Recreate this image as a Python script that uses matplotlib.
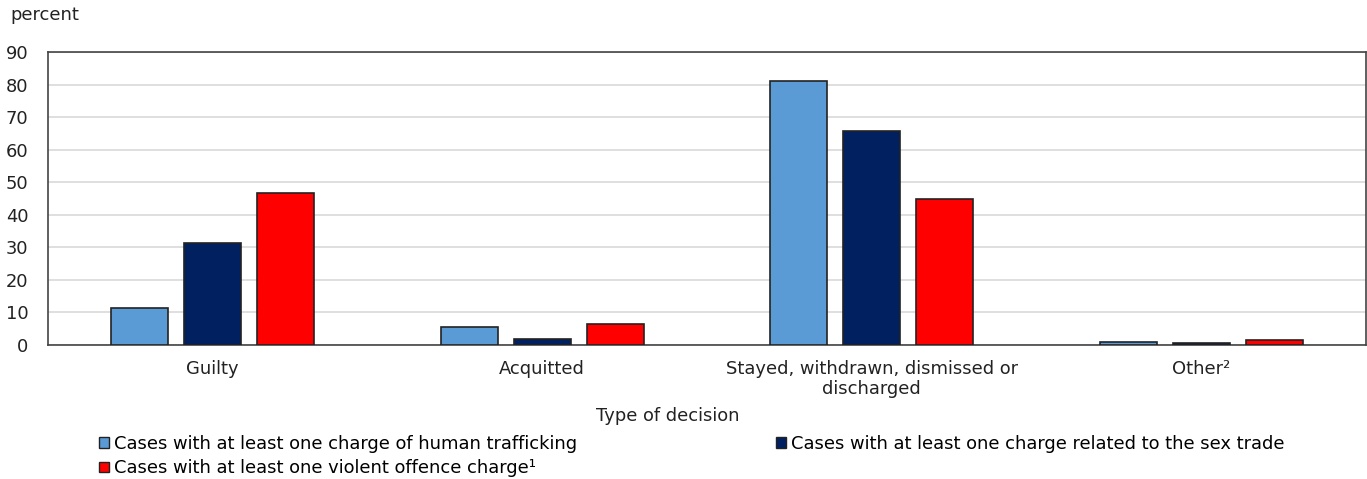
import matplotlib
matplotlib.use("Agg")
import matplotlib.pyplot as plt
from matplotlib.patches import Patch
import numpy as np

categories = ["Guilty", "Acquitted", "Stayed, withdrawn, dismissed or\ndischarged", "Other²"]
series_names = ["Cases with at least one charge of human trafficking",
                "Cases with at least one charge related to the sex trade",
                "Cases with at least one violent offence charge¹"]
human_trafficking = [11.4, 5.5, 81.0, 0.9]
sex_trade = [31.3, 1.8, 65.6, 0.5]
violent = [46.6, 6.4, 44.8, 1.5]
colors = ["#5b9bd5", "#002060", "#ff0000"]
yticks = [0, 10, 20, 30, 40, 50, 60, 70, 80, 90]

FS = 12.9
plt.rcParams['font.family'] = ['DejaVu Sans']
fig = plt.figure(figsize=(13.67, 4.79), dpi=100)
ax = fig.add_axes([48/1367, 1-345/479, (1366-48)/1367, (345-52)/479])

x = np.arange(len(categories))
w = 0.173
off = 0.222
for i, (vals, c) in enumerate(zip([human_trafficking, sex_trade, violent], colors)):
    ax.bar(x + (i-1)*off, vals, width=w, color=c, edgecolor="#222222", linewidth=1.2, zorder=3)

ax.set_xlim(-0.5, 3.5)
ax.set_ylim(0, 90)
ax.set_yticks(yticks)
ax.grid(axis='y', color='#d9d9d9', linewidth=1.2, zorder=0)
ax.set_axisbelow(True)
ax.tick_params(axis='both', length=0, labelsize=FS, colors='#222222')
ax.tick_params(axis='y', pad=14)
ax.tick_params(axis='x', pad=11)
ax.set_xticks(x)
ax.set_xticklabels(categories, linespacing=1.1)
for s in ax.spines.values():
    s.set_color('#444444')
    s.set_linewidth(1.2)

fig.text(10/1367, 1-15/479, "percent", fontsize=FS, color='#222222', va='center', ha='left')
fig.text(668/1367, 1-416/479, "Type of decision", fontsize=FS, color='#222222', va='center', ha='center')

handles = [Patch(facecolor=colors[0], edgecolor='#222222', label=series_names[0]),
           Patch(facecolor=colors[2], edgecolor='#222222', label=series_names[2]),
           Patch(facecolor=colors[1], edgecolor='#222222', label=series_names[1])]
fig.legend(handles=handles, ncol=2, loc='upper left', bbox_to_anchor=(99/1367, 1-435/479),
           frameon=False, fontsize=FS, handlelength=0.55, handleheight=0.55, handletextpad=0.3,
           columnspacing=11.1, labelspacing=0.35, borderaxespad=0, borderpad=0)

fig.savefig("out.png", dpi=100)
